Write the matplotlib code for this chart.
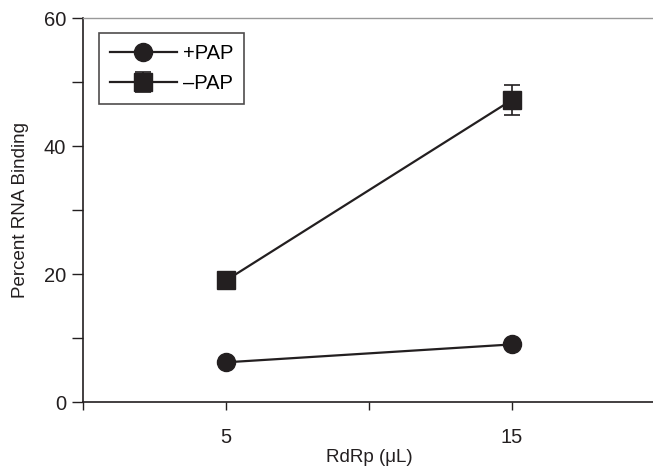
import matplotlib
matplotlib.use("Agg")
import matplotlib.pyplot as plt
from matplotlib.ticker import MultipleLocator

plt.rcParams["font.family"] = ["Liberation Sans", "DejaVu Sans"]

rdrp = [5, 15]
plus_pap = [6.2, 9.0]
minus_pap = [19.0, 47.2]
minus_err = [0, 2.3]

INK = "#231f20"

fig = plt.figure(figsize=(6.53, 4.70), dpi=100)
ax = fig.add_axes([83 / 653, 68 / 470, 572 / 653, 384 / 470])

ax.plot(rdrp, plus_pap, color=INK, lw=1.6, marker="o", ms=13, label="+PAP")
ax.errorbar(rdrp, minus_pap, yerr=minus_err, color=INK, lw=1.6, marker="s", ms=12.5,
            capsize=6, elinewidth=1.2, capthick=1.2, label="\u2013PAP")

ax.set_xlim(0, 20)
ax.set_ylim(0, 60)
ax.set_xticks([0, 5, 10, 15, 20])
ax.set_xticklabels(["", "5", "", "15", ""])
ax.yaxis.set_major_locator(MultipleLocator(20))
ax.yaxis.set_minor_locator(MultipleLocator(10))
ax.tick_params(axis="both", which="both", direction="out", color=INK, width=1,
               labelsize=14.5, labelcolor=INK)
ax.tick_params(axis="y", which="both", length=8, pad=4)
ax.tick_params(axis="x", length=6, pad=13)

for s in ["left", "bottom"]:
    ax.spines[s].set_color(INK)
    ax.spines[s].set_linewidth(1.2)
ax.spines["right"].set_visible(False)
ax.spines["top"].set_color("#999999")
ax.spines["top"].set_linewidth(1.0)

ax.set_xlabel("RdRp (\u03bcL)", fontsize=13.5, color=INK, labelpad=1)
ax.set_ylabel("Percent RNA Binding", fontsize=13.5, color=INK, labelpad=11)

handles, labels = ax.get_legend_handles_labels()
leg = ax.legend(handles, labels, loc="upper left", bbox_to_anchor=(16 / 572, 1 - 15 / 384),
                borderaxespad=0, fontsize=14.5, frameon=True, fancybox=False, edgecolor=INK,
                handlelength=3.3, handletextpad=0.3, borderpad=0.55, labelspacing=0.55)
leg.get_frame().set_linewidth(1.2)

plt.savefig("out.png", dpi=100)
